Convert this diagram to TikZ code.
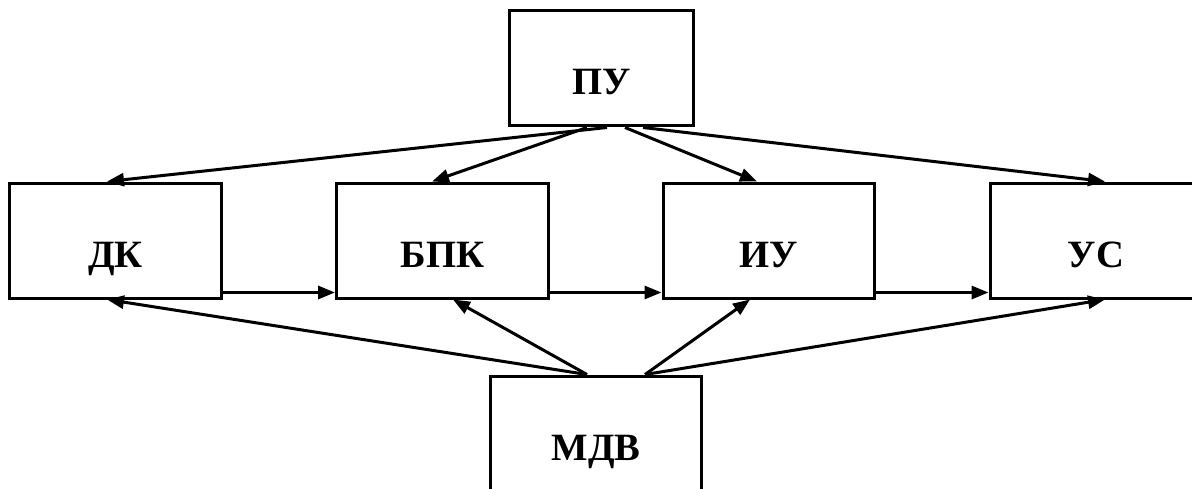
\documentclass[tikz,border=0pt]{standalone}
\usepackage{fontspec}
\setmainfont{Liberation Serif}
\usetikzlibrary{arrows.meta,calc}

\begin{document}
\begin{tikzpicture}[x=0.02cm, y=-0.02cm,
    blk/.style={draw, line width=0.06cm, minimum width=4.24cm, minimum height=2.3cm, text height=1.1cm, text depth=0.04cm, font=\fontsize{22}{26}\selectfont\bfseries},
    arr/.style={line width=0.06cm, -{Triangle[length=0.34cm, width=0.26cm]}}]
    \clip (0, 0) rectangle (1192, 488);
    \node[blk, minimum width=3.7cm, minimum height=2.32cm] (pu) at (601.5, 68) {ПУ};
    \node[blk] (dk) at (115.5, 240.5) {ДК};
    \node[blk] (bpk) at (442.5, 240.5) {БПК};
    \node[blk] (iu) at (769, 240.5) {ИУ};
    \node[blk] (us) at (1096, 240.5) {УС};
    \node[blk] (mdv) at (596, 433.5) {МДВ};

    % from the top
    \draw[arr] ($(pu.south)+(5.5, 0)$) to ($(dk.north)+(-8.5, 0)$);
    \draw[arr] ($(pu.south)+(-14.5, 0)$) to ($(bpk.north)+(-10.5, 0)$);
    \draw[arr] ($(pu.south)+(23.5, 0)$) to ($(iu.north)+(-12, 0)$);
    \draw[arr] ($(pu.south)+(41.5, 0)$) to ($(us.north)+(9, 0)$);

    % chain
    \draw[arr] ($(dk.south east)+(0, -7)$) to ($(bpk.south west)+(0, -7)$);
    \draw[arr] ($(bpk.south east)+(0, -7)$) to ($(iu.south west)+(0, -7)$);
    \draw[arr] ($(iu.south east)+(0, -7)$) to ($(us.south west)+(0, -7)$);

    % from the bottom
    \draw[arr] ($(mdv.north)+(-9, 0)$) to ($(dk.south)+(-8.5, 0)$);
    \draw[arr] ($(mdv.north)+(-9, 0)$) to ($(bpk.south)+(10.5, 0)$);
    \draw[arr] ($(mdv.north)+(49, 0)$) to ($(iu.south)+(-19, 0)$);
    \draw[arr] ($(mdv.north)+(49, 0)$) to ($(us.south)+(9, 0)$);
\end{tikzpicture}
\end{document}
